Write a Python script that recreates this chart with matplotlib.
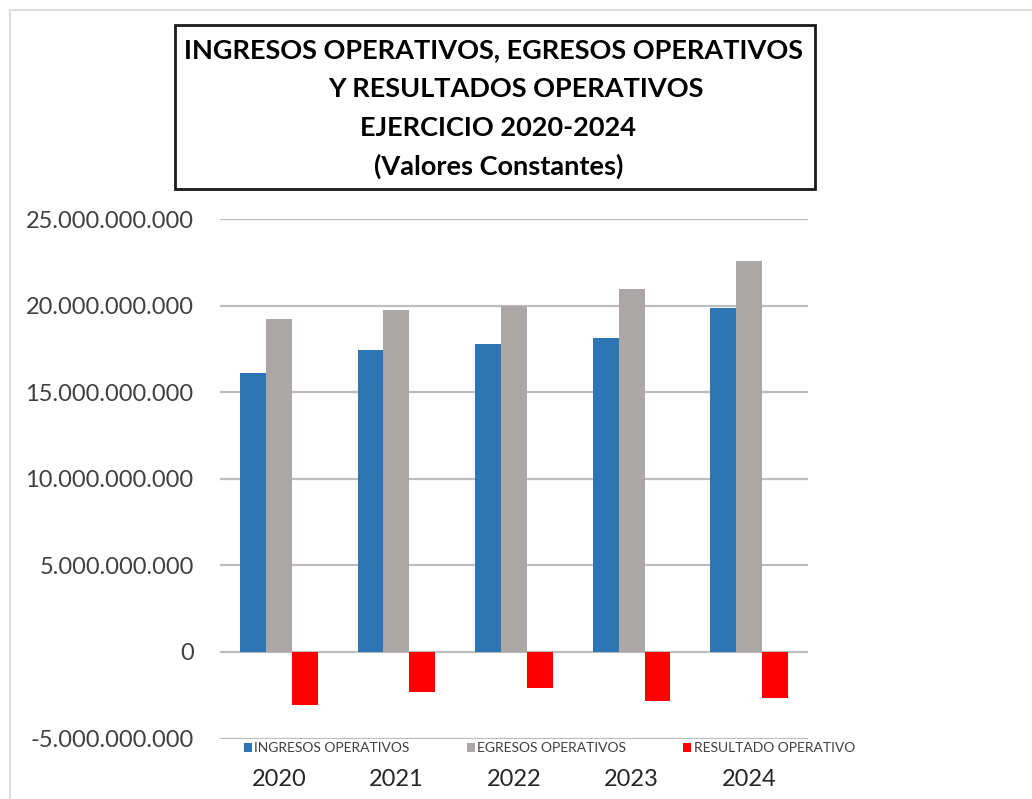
import matplotlib.pyplot as plt
from matplotlib.patches import Rectangle
from matplotlib.lines import Line2D
from matplotlib.ticker import FuncFormatter

plt.rcParams['font.family'] = ['Lato', 'DejaVu Sans']

years = ['2020', '2021', '2022', '2023', '2024']
ingresos = [16.1e9, 17.42e9, 17.8e9, 18.1e9, 19.87e9]
egresos = [19.2e9, 19.77e9, 20.0e9, 20.95e9, 22.58e9]
resultado = [-3.08e9, -2.34e9, -2.11e9, -2.86e9, -2.65e9]

series = ['INGRESOS OPERATIVOS', 'EGRESOS OPERATIVOS', 'RESULTADO OPERATIVO']
colors = ['#2E75B6', '#ABA7A7', '#FF0000']
title_lines = ['INGRESOS OPERATIVOS, EGRESOS OPERATIVOS',
               'Y RESULTADOS OPERATIVOS',
               'EJERCICIO 2020-2024',
               '(Valores Constantes)']

W, H = 1032, 799
fig = plt.figure(figsize=(W / 100, H / 100), dpi=100)

# marco gris claro de la imagen original
fig.add_artist(Line2D([10 / W, 1], [1 - 10 / H, 1 - 10 / H], color='#DDDDDD', lw=1.5))
fig.add_artist(Line2D([10 / W, 10 / W], [0, 1 - 10 / H], color='#DDDDDD', lw=1.5))

ax = fig.add_axes([220 / W, 1 - 738.5 / H, 588 / W, 519.5 / H])

x = list(range(len(years)))
w = 0.22
for k, vals in enumerate([ingresos, egresos, resultado]):
    ax.bar([i + (k - 1) * w for i in x], vals, width=w, color=colors[k],
           label=series[k], zorder=3)

ax.set_xlim(-0.5, len(years) - 0.5)
ax.set_ylim(-5e9, 25e9)
ax.set_yticks([-5e9, 0, 5e9, 10e9, 15e9, 20e9, 25e9])
ax.yaxis.set_major_formatter(FuncFormatter(lambda v, p: f'{v:,.0f}'.replace(',', '.')))
ax.grid(axis='y', color='#BDBDBD', lw=1.6, zorder=0)
ax.set_axisbelow(True)
for s in ax.spines.values():
    s.set_visible(False)
ax.tick_params(axis='y', length=0, pad=19, labelsize=17, labelcolor='#404040')
ax.set_xticks(x)
ax.set_xticklabels(years)
ax.tick_params(axis='x', length=0, pad=22, labelsize=17, labelcolor='#262626')

fig.legend(loc='center left', bbox_to_anchor=(244 / W, 1 - 748 / H), ncol=3,
           frameon=False, fontsize=10, handlelength=0.6, handleheight=0.6,
           handletextpad=0.15, columnspacing=4.1, borderaxespad=0, borderpad=0,
           labelcolor='#404040')

# caja del título
fig.add_artist(Rectangle((175 / W, 1 - 189 / H), 640 / W, 164 / H, fill=False,
                         edgecolor='#1A1A1A', lw=2, transform=fig.transFigure))
title_pos = [(494, 50), (516, 89), (498, 128), (499, 166)]
for txt, (px, py) in zip(title_lines, title_pos):
    fig.text(px / W, 1 - py / H, txt, ha='center', va='center',
             fontsize=19.5, fontweight='bold', color='black')

fig.savefig('out.png', dpi=100)
